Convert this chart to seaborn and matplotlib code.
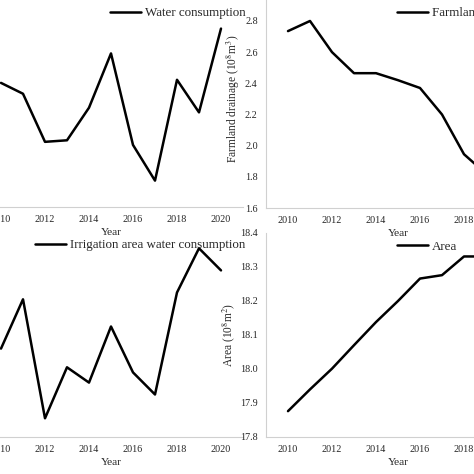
import pandas as pd
import matplotlib
matplotlib.use("Agg")
import matplotlib.pyplot as plt
from matplotlib.ticker import MultipleLocator
import seaborn as sns

# Data
years = list(range(2010, 2021))
water_use = [48.0, 47.3, 44.2, 44.3, 46.4, 49.9, 44.0, 41.7, 48.2, 46.1, 51.5]
drainage = [2.735, 2.80, 2.60, 2.465, 2.465, 2.42, 2.37, 2.20, 1.945, 1.82, 1.80]
irrig_use = [35.2, 38.1, 31.1, 34.1, 33.2, 36.5, 33.8, 32.5, 38.5, 41.1, 39.8]
area = [17.876, 17.94, 18.001, 18.07, 18.138, 18.20, 18.266, 18.276, 18.331, 18.331, 18.335]

df = pd.DataFrame({"Year": years, "water": water_use, "drain": drainage,
                   "irrig": irrig_use, "area": area})

sns.set_style("white")
plt.rcParams["font.family"] = ["Liberation Serif", "DejaVu Serif"]
plt.rcParams["mathtext.fontset"] = "stix"

W = 474
fig = plt.figure(figsize=(4.74, 4.74), dpi=100)


def box(x0, x1, ytop, ybot):
    # pixel box -> figure fraction (the figure is a crop, so axes can run off canvas)
    return [x0 / W, 1 - ybot / W, (x1 - x0) / W, (ybot - ytop) / W]


panels = [
    # column, label, ylabel, ylim, ystep, axes box, legend anchor (px)
    ("water", "Water consumption", "Water consumption (10$^8$m$^3$)", (40, 54), 2,
     box(-21, 243, -10.2, 207), (110, 13)),
    ("drain", "Farmland drainage", "Farmland drainage (10$^8$m$^3$)", (1.6, 3.0), 0.2,
     box(266, 530, -10.2, 208), (397, 13)),
    ("irrig", "Irrigation area water consumption", "Water consumption (10$^8$m$^3$)", (30, 42), 2,
     box(-21, 243, 233, 437), (35, 245)),
    ("area", "Area", "Area (10$^8$m$^2$)", (17.8, 18.4), 0.1,
     box(266, 530, 233, 437), (397, 247)),
]

grey = "#d0d0d0"
txt = "#262626"

for col, name, ylab, ylim, ystep, rect, (lx, ly) in panels:
    ax = fig.add_axes(rect)
    sns.lineplot(data=df, x="Year", y=col, ax=ax, color="black", lw=1.8, label=name)
    ax.set_xlim(2009, 2021)
    ax.set_ylim(*ylim)
    ax.xaxis.set_minor_locator(MultipleLocator(1))
    ax.yaxis.set_major_locator(MultipleLocator(ystep))
    ax.set_xticks(range(2010, 2021, 2))
    ax.tick_params(axis="both", which="both", length=3, width=0.6, color=grey,
                   labelsize=7.3, labelcolor=txt, direction="out")
    ax.tick_params(axis="x", pad=2.5)
    ax.tick_params(axis="y", pad=3)
    for s in ["top", "right"]:
        ax.spines[s].set_visible(False)
    for s in ["left", "bottom"]:
        ax.spines[s].set_color(grey)
        ax.spines[s].set_linewidth(0.8)
    ax.set_xlabel("Year", fontsize=8.2, color=txt, labelpad=3)
    ax.set_ylabel(ylab, fontsize=8.3, color=txt, labelpad=2)
    ax.patch.set_alpha(0)
    ax.legend(loc="center left", bbox_to_anchor=(lx / W, 1 - ly / W),
              bbox_transform=fig.transFigure, frameon=False, fontsize=9.4,
              borderpad=0, borderaxespad=0, handlelength=2.4, handletextpad=0.3)

fig.savefig("out.png", dpi=100)
